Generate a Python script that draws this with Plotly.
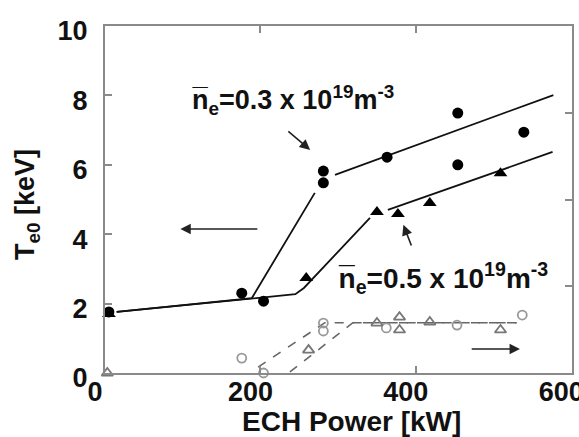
import plotly.graph_objects as go

# ---- data ----
# filled markers: Te0 [keV] (left axis)
circ03_p = [5, 176, 204, 281, 281, 363, 454, 454, 539]
circ03_t = [1.76, 2.30, 2.07, 5.82, 5.48, 6.22, 7.49, 6.00, 6.94]
tri05_p = [5, 259, 350, 377, 418, 509]
tri05_t = [1.70, 2.74, 4.64, 4.58, 4.90, 5.76]

# fit lines
fit03_p = [15, 189, 270, None, 296, 577]
fit03_t = [1.76, 2.16, 5.19, None, 5.71, 8.01]
fit05_p = [15, 189, 245, 256, 341, None, 364, 576]
fit05_t = [1.76, 2.16, 2.27, 2.45, 4.47, None, 4.70, 6.37]

# open markers (right axis)
ocirc_p = [176, 204, 281, 281, 362, 453, 537]
ocirc_v = [0.43, 0.0, 1.44, 1.21, 1.30, 1.38, 1.67]
otri_p = [3, 262, 350, 379, 379, 418, 509]
otri_v = [0.0, 0.66, 1.44, 1.61, 1.24, 1.47, 1.24]
ofitc_p = [197, 283, 530]
ofitc_v = [0.17, 1.45, 1.45]
ofitt_p = [238, 319, 530]
ofitt_v = [0.03, 1.45, 1.45]

x_ticks = [0, 200, 400, 600]
y_ticks = [0, 2, 4, 6, 8, 10]

FONT = "Liberation Sans, Arial, sans-serif"
AX = "#8a8a8a"

fig = go.Figure()
fig.add_trace(go.Scatter(x=fit03_p, y=fit03_t, mode="lines",
                         line=dict(color="#111", width=1.8), showlegend=False))
fig.add_trace(go.Scatter(x=fit05_p, y=fit05_t, mode="lines",
                         line=dict(color="#111", width=1.8), showlegend=False))
fig.add_trace(go.Scatter(x=ofitc_p, y=ofitc_v, mode="lines", yaxis="y2",
                         line=dict(color="#666", width=1.6, dash="dash"), showlegend=False))
fig.add_trace(go.Scatter(x=ofitt_p, y=ofitt_v, mode="lines", yaxis="y2",
                         line=dict(color="#666", width=1.6, dash="dash"), showlegend=False))
fig.add_trace(go.Scatter(x=ocirc_p, y=ocirc_v, mode="markers", yaxis="y2", cliponaxis=False,
                         marker=dict(symbol="circle-open", size=9, color="#999",
                                     line=dict(width=1.8, color="#999")), showlegend=False))
fig.add_trace(go.Scatter(x=otri_p, y=otri_v, mode="markers", yaxis="y2", cliponaxis=False,
                         marker=dict(symbol="triangle-up-open", size=10, color="#777",
                                     line=dict(width=1.8, color="#777")), showlegend=False))
fig.add_trace(go.Scatter(x=circ03_p, y=circ03_t, mode="markers", cliponaxis=False,
                         marker=dict(symbol="circle", size=11, color="#000"), showlegend=False))
fig.add_trace(go.Scatter(x=tri05_p, y=tri05_t, mode="markers", cliponaxis=False,
                         marker=dict(symbol="triangle-up", size=12, color="#000"), showlegend=False))

tf = dict(family=FONT, size=27, color="#111", weight="bold")
fig.update_layout(
    width=579, height=437,
    margin=dict(l=105, r=7, t=26, b=64, autoexpand=False),
    paper_bgcolor="white", plot_bgcolor="white",
    xaxis=dict(range=[0, 601], tickvals=x_ticks, ticktext=[str(v) for v in x_ticks],
               ticks="inside", ticklen=7, tickcolor=AX, tickwidth=1.5,
               showline=True, linecolor=AX, linewidth=2, mirror="ticks",
               showgrid=False, zeroline=False, tickfont=tf, ticklabelshift=-10,
               ticklabelstandoff=-6, ticklabeloverflow="allow", automargin=False),
    yaxis=dict(range=[0, 10], tickvals=y_ticks, ticktext=[str(v) for v in y_ticks],
               ticks="inside", ticklen=7, tickcolor=AX, tickwidth=1.5,
               showline=True, linecolor=AX, linewidth=2, mirror=False,
               showgrid=False, zeroline=False, tickfont=tf, ticklabelshift=5,
               ticklabelstandoff=10, ticklabeloverflow="allow", automargin=False),
    yaxis2=dict(range=[0, 10], overlaying="y", side="right", tickvals=[2.5, 5, 7.5],
                showticklabels=False, ticks="inside", ticklen=7, tickcolor=AX, tickwidth=1.5,
                showline=True, linecolor=AX, linewidth=2, showgrid=False, zeroline=False,
                automargin=False),
)

ann_font = dict(family=FONT, size=27, color="#111", weight="bold")
fig.add_annotation(x=109, y=7.87, xref="x", yref="y", xanchor="left", yanchor="middle",
                   text="n\u0305<sub>e</sub>=0.3 x 10<sup>19</sup>m<sup>-3</sup>",
                   showarrow=False, font=ann_font)
fig.add_annotation(x=297, y=2.75, xref="x", yref="y", xanchor="left", yanchor="middle",
                   text="n\u0305<sub>e</sub>=0.5 x 10<sup>19</sup>m<sup>-3</sup>",
                   showarrow=False, font=dict(family=FONT, size=28, color="#111", weight="bold"))
# arrows
arrows = [
    (264, 6.43, 234, 7.0),
    (384, 4.27, 395, 3.63),
    (97, 4.15, 198, 4.15),
    (534, 0.69, 470, 0.69),
]
for hx, hy, tx, ty in arrows:
    fig.add_annotation(x=hx, y=hy, ax=tx, ay=ty, xref="x", yref="y", axref="x", ayref="y",
                       text="", showarrow=True, arrowhead=2, arrowsize=1.3,
                       arrowwidth=1.6, arrowcolor="#222")

# axis titles
fig.add_annotation(x=0.527, y=-0.141, xref="paper", yref="paper", xanchor="center",
                   yanchor="middle", text="ECH Power [kW]", showarrow=False,
                   font=dict(family=FONT, size=28, color="#111", weight="bold"))
fig.add_annotation(x=-0.167, y=0.484, xref="paper", yref="paper", xanchor="center",
                   yanchor="middle", text="T<sub>e0</sub> [keV]", textangle=-90,
                   showarrow=False,
                   font=dict(family=FONT, size=27, color="#111", weight="bold"))

fig.write_html("out.html")
